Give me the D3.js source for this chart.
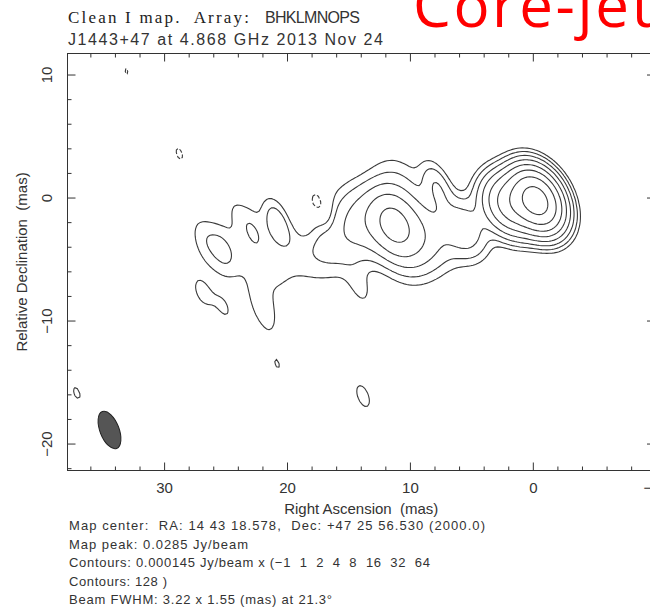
<!DOCTYPE html>
<html lang="en">
<head>
<meta charset="UTF-8">
<title>J1443+47 clean map</title>
<style>
    * { margin: 0; padding: 0; }
    body { background: #fff; }
    svg { display: block; }
    .lab { font-family: "Liberation Sans", Arial, sans-serif; fill: #333; white-space: pre; }
    .serif { font-family: "Liberation Serif", "Times New Roman", serif; fill: #222; white-space: pre; }
</style>
</head>
<body>
<div id="container"></div>
<script src="https://cdn.jsdelivr.net/npm/d3@7/dist/d3.min.js"></script>
<script>
"use strict";

// contours in units of the lowest level (Jy/beam)
var contourBase = 0.000145;
var contourSteps = [-1, 1, 2, 4, 8, 16, 32, 64, 128];

// restoring beam: FWHM major, minor (mas), position angle (deg)
var beam = [3.22, 1.55, 21.3];

// components:
// RA offset, Dec offset (mas), flux (mJy), intrinsic FWHM major, minor (mas), PA (deg)
var coreJet = [
    [-0.4, -0.3, 38.4, 1.8, 0.6, 95],
    [ 1.6, -0.6, 13.0, 2.4, 0.8, 100],
    [ 5.5, -2.6,  1.6, 2.0, 1.5, 100],
    [ 7.3, -3.2,  0.6, 3.0, 3.0, 0],
    [ 7.7,  0.7,  0.55, 0, 0, 0],
    [ 9.5, -3.0,  2.5, 3.0, 3.0, 0],
    [11.3, -2.2,  4.6, 2.0, 2.0, 0],
    [13.5, -2.0,  2.2, 3.0, 3.0, 0],
    [10.3, -4.5,  0.7, 3.0, 3.0, 0],
    [11.0,  0.8,  0.8, 3.0, 3.0, 0]
];

var outerJet = [
    [15.8, -3.5, 1.0, 3.0, 3.0, 0],
    [17.5, -4.5, 0.30, 2.5, 2.5, 0],
    [19.0, -5.0, 0.40, 3.5, 3.5, 0],
    [22.3, -4.6, 0.48, 3.5, 3.5, 0],
    [25.6, -4.3, 0.40, 3.0, 3.0, 0],
    [21.3, -6.6, 0.20, 2.5, 2.5, 0],
    [20.75, -2.05, 0.40, 0, 0, 0],
    [22.85, -2.5, 0.20, 0, 0, 0],
    [25.2, -4.35, 0.20, 0, 0, 0],
    [26.7, -3.3, 0.13, 0, 0, 0],
    [24.3, -0.9, 0.087, 0, 0, 0]
];

var faintSpots = [
    [22.1, -8.4, 0.116, 0, 0, 0],
    [21.7, -9.7, 0.152, 0, 0, 0],
    [14.0, -7.4, 0.167, 0, 0, 0],
    [26.9, -7.8, 0.16, 0, 0, 0],
    [25.0, -9.1, 0.145, 0, 0, 0],
    [37.05, -15.95, 0.154, 0, 0, 0],
    [13.75, -16.2, 0.18, 0, 0, 0],
    [20.75, -13.6, 0.148, 0, 0, 0]
];

var negativeSpots = [
    [28.7,  3.5, -0.154, 0, 0, 0],
    [33.0, 10.2, -0.148, 0, 0, 0],
    [17.2, -0.9, -0.27, 0, 0, 0],
    [18.7, -1.7, -0.15, 0, 0, 0]
];

var raTicks = [30, 20, 10, 0, -10];
var decTicks = [10, 0, -10, -20];

var headerLeft = 'Clean I map.  Array:';
var headerArray = 'BHKLMNOPS';
var headerSource = 'J1443+47 at 4.868 GHz 2013 Nov 24';
var overlayLabel = 'Core-jet';
var xTitle = 'Right Ascension  (mas)';
var yTitle = 'Relative Declination  (mas)';
var infoLines = [
    'Map center:  RA: 14 43 18.578,  Dec: +47 25 56.530 (2000.0)',
    'Map peak: 0.0285 Jy/beam',
    'Contours: 0.000145 Jy/beam x (\u22121  1  2  4  8  16  32  64',
    'Contours: 128 )',
    'Beam FWHM: 3.22 x 1.55 (mas) at 21.3\u00b0'
];

(function () {

    var config = {
        width: 650,
        height: 609,
        frame: { left: 67.5, right: 655, top: 53.5, bottom: 470.5 },
        raRange: [37.9, -9.9],
        decRange: [11.75, -22.15],
        grid: { raLo: -13, raHi: 41, decLo: -25, decHi: 15, step: 0.2 },
        major: 8,
        minor: 4
    };

    var f = config.frame;

    var svg = d3.select('#container')
        .append('svg')
        .attr('width', config.width)
        .attr('height', config.height);

    var x = d3.scaleLinear().domain(config.raRange).range([f.left, f.right]);
    var y = d3.scaleLinear().domain(config.decRange).range([f.top, f.bottom]);

    // FWHM + PA -> covariance [xx, xy, yy] in (ra, dec)
    function covariance(maj, min, pa) {
        var k = 1 / (8 * Math.LN2),
            a = maj * maj * k,
            b = min * min * k,
            t = pa * Math.PI / 180,
            s = Math.sin(t),
            c = Math.cos(t);
        return [a * s * s + b * c * c, (a - b) * s * c, a * c * c + b * s * s];
    }

    var cb = covariance(beam[0], beam[1], beam[2]);
    var beamDet = cb[0] * cb[2] - cb[1] * cb[1];

    // every component convolved with the beam
    var restored = coreJet.concat(outerJet, faintSpots, negativeSpots).map(function (d) {
        var cc = covariance(d[3], d[4], d[5]);
        var xx = cb[0] + cc[0], xy = cb[1] + cc[1], yy = cb[2] + cc[2];
        var det = xx * yy - xy * xy;
        return {
            ra: d[0], dec: d[1],
            peak: d[2] / 1000 * Math.sqrt(beamDet / det),
            ixx: yy / det, ixy: -xy / det, iyy: xx / det
        };
    });

    var g = config.grid;
    var nx = Math.round((g.raHi - g.raLo) / g.step) + 1;
    var ny = Math.round((g.decHi - g.decLo) / g.step) + 1;
    var values = new Float64Array(nx * ny);

    for (var j = 0; j < ny; j++) {
        var dec = g.decLo + j * g.step;
        for (var i = 0; i < nx; i++) {
            var ra = g.raLo + i * g.step, v = 0;
            for (var k = 0; k < restored.length; k++) {
                var c = restored[k], dx = ra - c.ra, dy = dec - c.dec;
                v += c.peak * Math.exp(-0.5 * (c.ixx * dx * dx + 2 * c.ixy * dx * dy + c.iyy * dy * dy));
            }
            values[j * nx + i] = v;
        }
    }

    var posLevels = contourSteps.filter(function (s) { return s > 0; })
        .map(function (s) { return s * contourBase; });
    var negLevels = contourSteps.filter(function (s) { return s < 0; })
        .map(function (s) { return -s * contourBase; });

    var posContours = d3.contours().size([nx, ny]).thresholds(posLevels)(values);
    var negContours = d3.contours().size([nx, ny]).thresholds(negLevels)(values.map(function (d) { return -d; }));

    var toMap = d3.geoTransform({
        point: function (px, py) {
            this.stream.point(x(g.raLo + px * g.step), y(g.decLo + py * g.step));
        }
    });
    var path = d3.geoPath(toMap);

    svg.append('clipPath').attr('id', 'frameClip')
        .append('rect')
        .attr('x', f.left).attr('y', f.top)
        .attr('width', f.right - f.left).attr('height', f.bottom - f.top);

    var map = svg.append('g').attr('clip-path', 'url(#frameClip)');

    map.selectAll('path.pos')
        .data(posContours)
        .enter().append('path')
        .attr('class', 'pos')
        .attr('d', path)
        .attr('fill', 'none')
        .attr('stroke', '#3a3a3a')
        .attr('stroke-width', 1.1);

    map.selectAll('path.neg')
        .data(negContours)
        .enter().append('path')
        .attr('class', 'neg')
        .attr('d', path)
        .attr('fill', 'none')
        .attr('stroke', '#3a3a3a')
        .attr('stroke-width', 1.1)
        .attr('stroke-dasharray', '4,2');

    // beam in the lower left corner
    var pxPerMas = Math.abs(x(1) - x(0));
    map.append('ellipse')
        .attr('transform', 'translate(' + (f.left + 42) + ',' + (f.bottom - 40.5) + ') rotate(' + (-beam[2]) + ')')
        .attr('rx', beam[1] / 2 * pxPerMas)
        .attr('ry', beam[0] / 2 * pxPerMas)
        .attr('fill', '#555')
        .attr('stroke', '#222')
        .attr('stroke-width', 1);

    // frame and ticks
    var axes = svg.append('g').attr('stroke', '#333').attr('stroke-width', 1);

    axes.append('rect')
        .attr('x', f.left).attr('y', f.top)
        .attr('width', f.right - f.left).attr('height', f.bottom - f.top)
        .attr('fill', 'none');

    var raAll = d3.range(-10, 40, 2);
    var decAll = d3.range(-22, 12, 2);

    raAll.forEach(function (t) {
        var len = t % 10 === 0 ? config.major : config.minor, px = x(t);
        if (px <= f.left || px >= f.right) return;
        axes.append('line').attr('x1', px).attr('x2', px).attr('y1', f.bottom).attr('y2', f.bottom - len);
        axes.append('line').attr('x1', px).attr('x2', px).attr('y1', f.top).attr('y2', f.top + len);
    });

    decAll.forEach(function (t) {
        var len = t % 10 === 0 ? config.major : config.minor, py = y(t);
        if (py <= f.top || py >= f.bottom) return;
        axes.append('line').attr('y1', py).attr('y2', py).attr('x1', f.left).attr('x2', f.left + len);
        axes.append('line').attr('y1', py).attr('y2', py).attr('x1', f.right).attr('x2', f.right - len);
    });

    function fmt(t) { return t < 0 ? '\u2212' + (-t) : String(t); }

    svg.selectAll('text.xt')
        .data(raTicks)
        .enter().append('text')
        .attr('class', 'lab xt')
        .attr('x', function (d) { return x(d); })
        .attr('y', f.bottom + 22)
        .attr('text-anchor', 'middle')
        .style('font-size', '15px')
        .text(fmt);

    svg.selectAll('text.yt')
        .data(decTicks)
        .enter().append('text')
        .attr('class', 'lab yt')
        .attr('transform', function (d) { return 'translate(' + (f.left - 16) + ',' + y(d) + ') rotate(-90)'; })
        .attr('text-anchor', 'middle')
        .style('font-size', '15px')
        .text(fmt);

    svg.append('text')
        .attr('class', 'lab')
        .attr('x', (f.left + f.right) / 2)
        .attr('y', f.bottom + 43)
        .attr('text-anchor', 'middle')
        .style('font-size', '15px')
        .text(xTitle);

    svg.append('text')
        .attr('class', 'lab')
        .attr('transform', 'translate(27,' + ((f.top + f.bottom) / 2) + ') rotate(-90)')
        .attr('text-anchor', 'middle')
        .style('font-size', '15px')
        .text(yTitle);

    // header
    svg.append('text')
        .attr('class', 'serif')
        .attr('x', 68).attr('y', 23)
        .attr('textLength', 181)
        .style('font-size', '17px')
        .text(headerLeft);

    svg.append('text')
        .attr('class', 'lab')
        .attr('x', 265).attr('y', 23)
        .attr('textLength', 95)
        .style('font-size', '16px')
        .text(headerArray);

    svg.append('text')
        .attr('class', 'lab')
        .attr('x', 68).attr('y', 45)
        .attr('textLength', 315)
        .style('font-size', '16px')
        .text(headerSource);

    svg.append('text')
        .attr('x', 413).attr('y', 27)
        .attr('textLength', 240)
        .style('font-family', '"Open Sans", sans-serif')
        .style('font-size', '60px')
        .attr('fill', '#ff0000')
        .text(overlayLabel);

    // map notes under the plot
    var infoWidths = [416, 179, 361, 98, 263];
    svg.selectAll('text.info')
        .data(infoLines)
        .enter().append('text')
        .attr('class', 'lab info')
        .attr('x', 69)
        .attr('y', function (d, i) { return 530 + i * 18.6; })
        .attr('textLength', function (d, i) { return infoWidths[i]; })
        .style('font-size', '13px')
        .text(function (d) { return d; });

})();
</script>
</body>
</html>
